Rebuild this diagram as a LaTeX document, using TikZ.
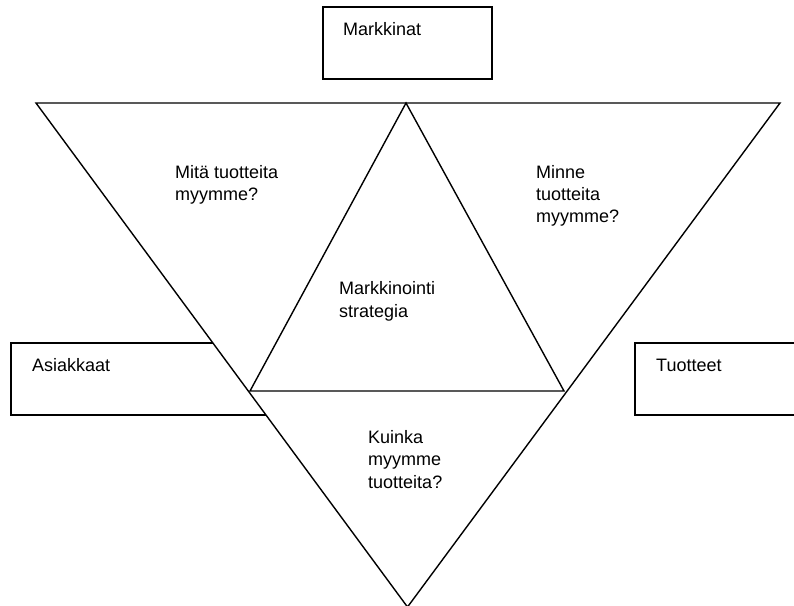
\documentclass[tikz,border=0pt]{standalone}
\usepackage{fontspec}
\setmainfont{Liberation Sans}
\begin{document}
\begin{tikzpicture}[x=1pt,y=-1pt,
  frame/.style={draw=black, line width=1.6pt},
  edge/.style={draw=black, line width=1.4pt, line join=miter},
  lbl/.style={font=\fontsize{18}{22.3}\selectfont, align=left, inner sep=0pt, anchor=base west}]
\useasboundingbox (0,0) rectangle (794,605);
\clip (0,0) rectangle (794,605);

% boxes around the diagram
\draw[frame] (323,7) rectangle (492,79);
\draw[frame] (11,343) rectangle (280,415);
\draw[frame] (635,343) rectangle (810,415);

% large inverted triangle
\coordinate (tl) at (36,103);
\coordinate (tr) at (780,103);
\coordinate (bt) at (407.5,607);
\filldraw[edge, fill=white] (tl) -- (tr) -- (bt) -- cycle;

% inner triangle
\coordinate (ia) at (406,103);
\coordinate (il) at (250,391);
\coordinate (ir) at (564,391);
\draw[edge] (ia) -- (il) -- (ir) -- cycle;

% labels (base anchor sits on the last line)
\node[lbl] (markkinat) at (343,35) {Markkinat};
\node[lbl] (asiakkaat) at (32,371.5) {Asiakkaat};
\node[lbl] (tuotteet) at (656,371) {Tuotteet};
\node[lbl] (mita) at (175,200.5) {Mitä tuotteita\\myymme?};
\node[lbl] (minne) at (536,222.7) {Minne\\tuotteita\\myymme?};
\node[lbl] (strategia) at (339,317) {Markkinointi\\strategia};
\node[lbl] (kuinka) at (368,488) {Kuinka\\myymme\\tuotteita?};
\end{tikzpicture}
\end{document}
